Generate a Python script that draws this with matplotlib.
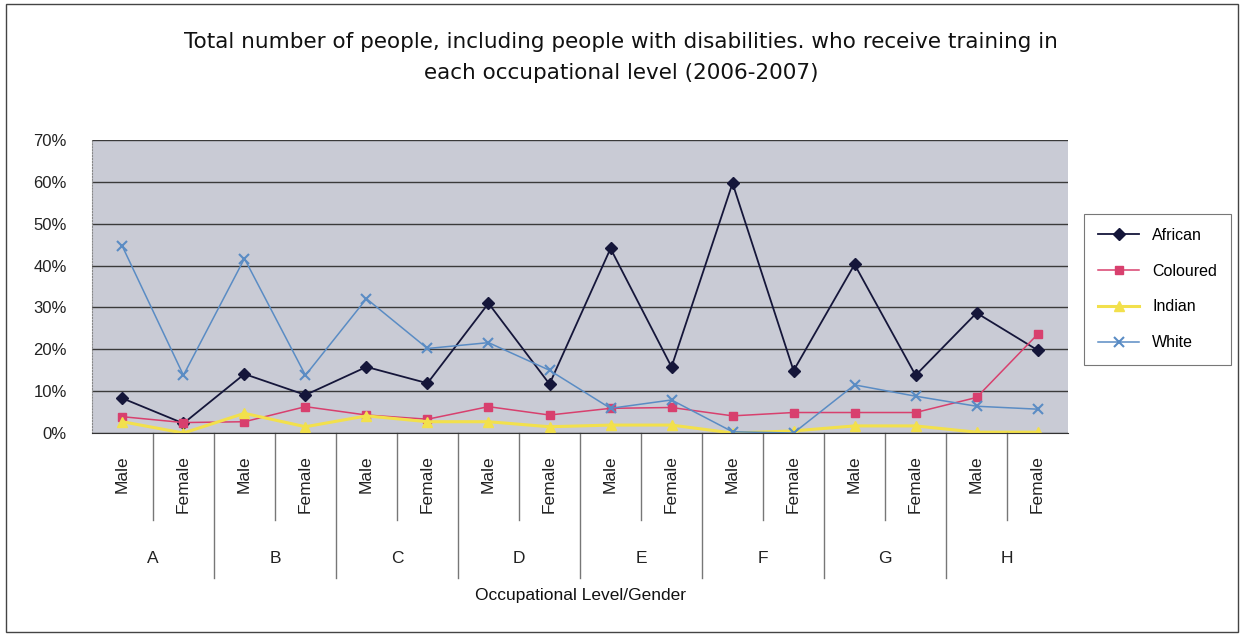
import matplotlib
matplotlib.use("Agg")
import matplotlib.pyplot as plt
import matplotlib.transforms as mtransforms
from matplotlib.ticker import PercentFormatter
from matplotlib.patches import Rectangle
import numpy as np

plt.rcParams['font.family'] = ['Liberation Sans', 'DejaVu Sans']

levels = ['A', 'B', 'C', 'D', 'E', 'F', 'G', 'H']
genders = ['Male', 'Female']

african = [8.3, 2.3, 14.1, 9.1, 15.8, 11.9, 31.0, 11.7,
           44.1, 15.8, 59.7, 14.9, 40.3, 13.8, 28.7, 19.8]
coloured = [3.9, 2.5, 2.7, 6.3, 4.3, 3.3, 6.3, 4.3,
            5.9, 6.1, 4.1, 4.9, 4.9, 4.9, 8.5, 23.6]
indian = [2.7, 0.0, 4.7, 1.5, 4.1, 2.7, 2.7, 1.5,
          1.9, 1.9, 0.0, 0.5, 1.7, 1.7, 0.2, 0.2]
white = [44.6, 13.8, 41.7, 13.8, 32.1, 20.2, 21.6, 15.0,
         5.9, 7.9, 0.3, 0.0, 11.5, 8.8, 6.4, 5.7]

series = [
    ('African', african, '#15163a', 'D', 6, 1.3),
    ('Coloured', coloured, '#d8406e', 's', 6, 1.1),
    ('Indian', indian, '#f2e04c', '^', 7, 2.2),
    ('White', white, '#5a8cc4', 'x', 7, 1.1),
]

fig = plt.figure(figsize=(12.42, 6.34), dpi=100)
ax = fig.add_axes([0.074, 0.317, 0.786, 0.462])
ax.set_facecolor('#c9cbd5')

x = np.arange(len(levels) * len(genders))
for name, vals, col, mk, ms, lw in series:
    ax.plot(x, np.array(vals) / 100, color=col, marker=mk, markersize=ms,
            lw=lw, label=name, mew=1.5 if mk == 'x' else 1)

ax.set_xlim(-0.5, len(x) - 0.5)
ax.set_ylim(0, 0.7)
ax.set_yticks(np.arange(0, 0.71, 0.1))
ax.yaxis.set_major_formatter(PercentFormatter(1.0, decimals=0))
ax.grid(axis='y', color='#3a3a3a', lw=1)
ax.set_axisbelow(True)
ax.tick_params(axis='y', length=0, labelsize=12, pad=18, colors='#222222')

ax.set_xticks(x)
ax.set_xticklabels(genders * len(levels), rotation=90, fontsize=12.5,
                   va='top', color='#222222')
ax.tick_params(axis='x', length=0, pad=16)

for side in ['top', 'right']:
    ax.spines[side].set_visible(False)
ax.spines['left'].set_color('#888888')
ax.spines['left'].set_linestyle(':')
ax.spines['bottom'].set_color('#333333')

# multi-level category axis separators
trans = mtransforms.blended_transform_factory(ax.transData, ax.transAxes)
for i in range(1, len(x)):
    bottom = -0.495 if i % 2 == 0 else -0.297
    ax.plot([i - 0.5, i - 0.5], [0, bottom], transform=trans, color='#777777',
            lw=1, clip_on=False)
for j, lv in enumerate(levels):
    ax.text(2 * j + 0.5, -0.427, lv, transform=trans, ha='center', va='center',
            fontsize=12.5, color='#222222')

ax.text(0.5, -0.556, 'Occupational Level/Gender', transform=ax.transAxes,
        ha='center', va='center', fontsize=12.5, color='#111111')

fig.text(0.5, 0.909, 'Total number of people, including people with disabilities. who receive training in\n'
         'each occupational level (2006-2007)', ha='center', va='center',
         fontsize=15.5, linespacing=1.65, color='#111111', family='DejaVu Sans')

leg = fig.legend(loc='center left', bbox_to_anchor=(0.866, 0.544), fontsize=11.5,
                 frameon=True, fancybox=False, edgecolor='#555555',
                 labelspacing=1.3, handlelength=2.6, borderpad=0.9)
leg.get_frame().set_linewidth(0.8)

fig.patches.append(Rectangle((0.005, 0.003), 0.992, 0.99, transform=fig.transFigure,
                             fill=False, edgecolor='#444444', lw=1))

fig.savefig('out.png', dpi=100)
